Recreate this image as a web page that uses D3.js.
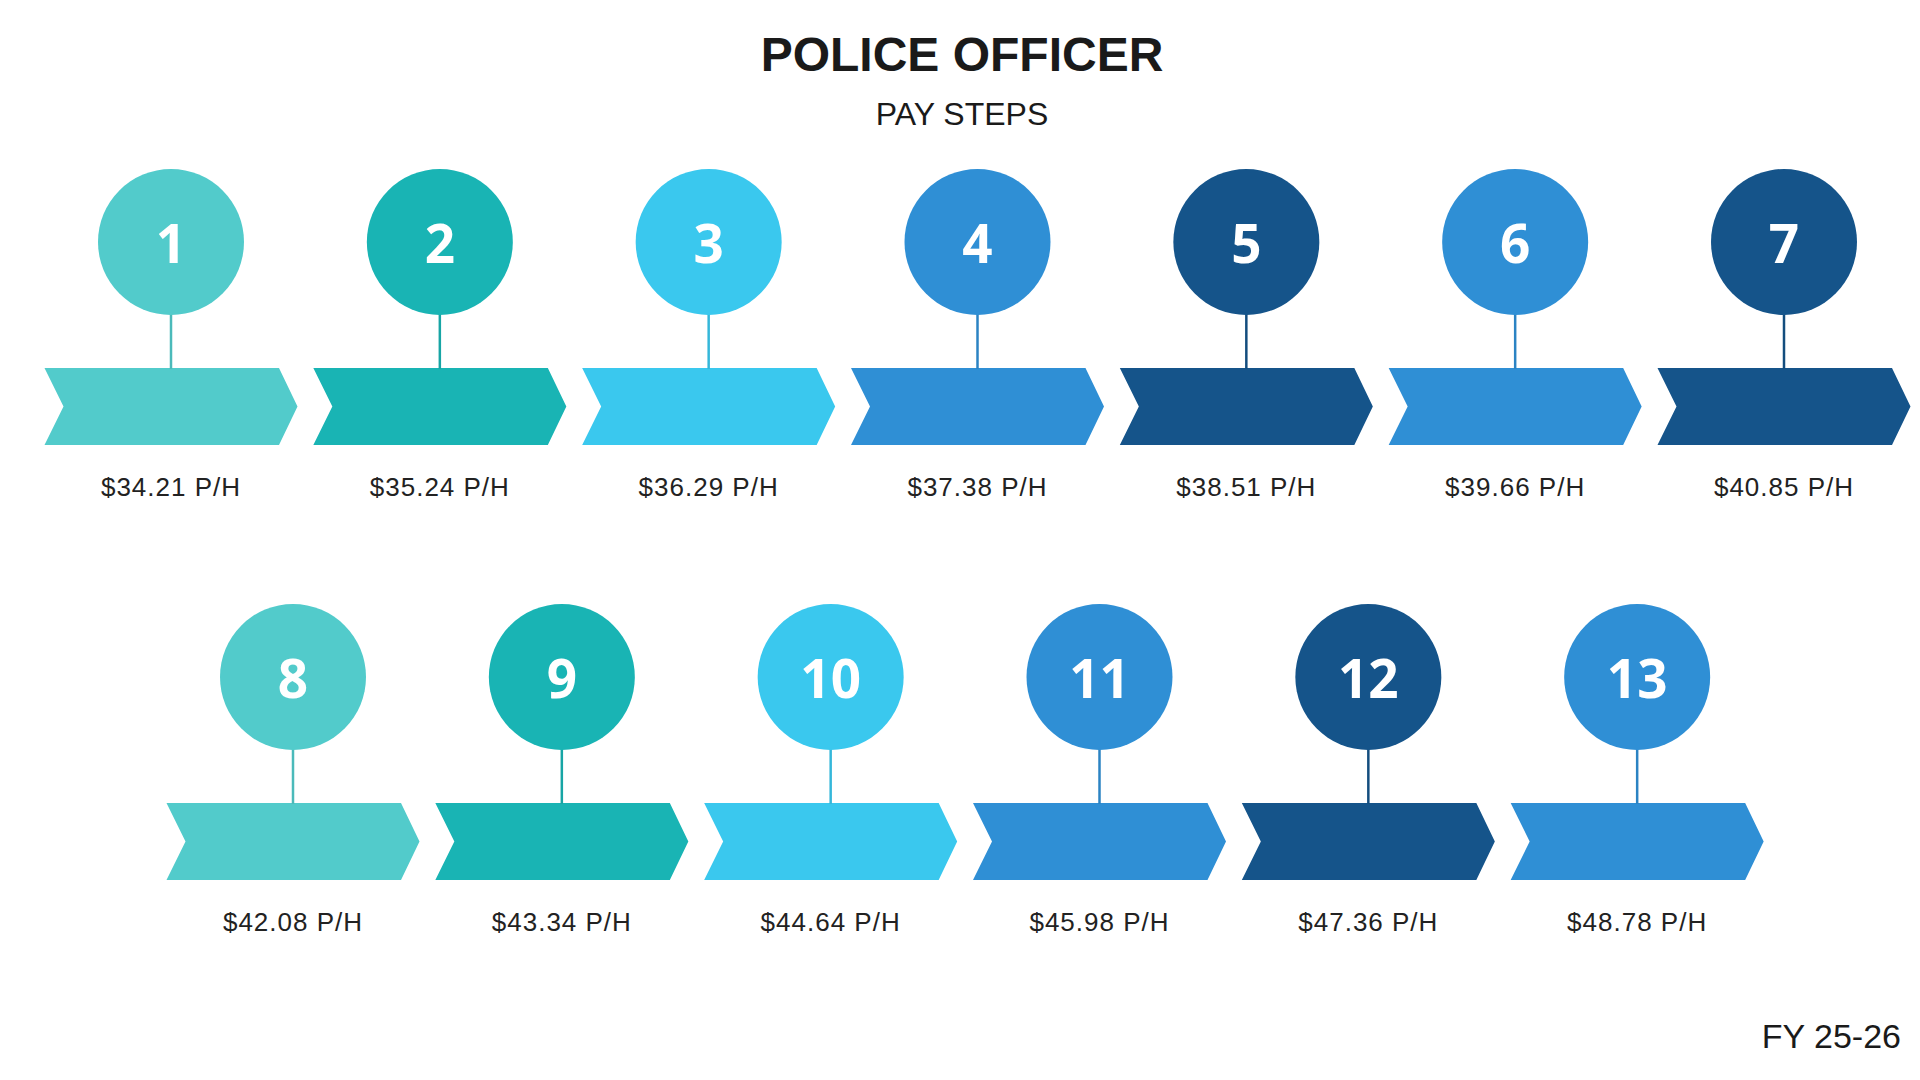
<!DOCTYPE html>
<html>
<head>
<meta charset="utf-8">
<title>Police Officer Pay Steps</title>
<script src="https://cdn.jsdelivr.net/npm/d3@7"></script>
<style>
  html, body { margin: 0; padding: 0; background: #fff; }
  svg { display: block; font-family: "Liberation Sans", Arial, sans-serif; }
  .title { font-weight: bold; fill: #1a1a1a; }
  .rate { fill: #222; }
  .num { font-family: "Open Sans", "Liberation Sans", sans-serif; font-weight: 700; fill: #fff; }
</style>
</head>
<body>
<div id="chart"></div>
<script>
  // Pay steps and hourly rates (FY 25-26)
  var steps = [1, 2, 3, 4, 5, 6, 7, 8, 9, 10, 11, 12, 13];
  var rates = [34.21, 35.24, 36.29, 37.38, 38.51, 39.66, 40.85,
               42.08, 43.34, 44.64, 45.98, 47.36, 48.78];
  var stepsPerRow = [7, 6];

  var titleText = "POLICE OFFICER";
  var subtitleText = "PAY STEPS";
  var footText = "FY 25-26";

  var width = 1920, height = 1080;

  // Colour cycle used by the steps
  var color = d3.scaleOrdinal()
      .domain(steps)
      .range(["#52cbcb", "#19b4b4", "#3ac8ee", "#2f8fd5", "#15548a", "#2f8fd5", "#15548a",
              "#52cbcb", "#19b4b4", "#3ac8ee", "#2f8fd5", "#15548a", "#2f8fd5"]);

  // Build the scenes: one per step, with row / column slot
  var scenes = steps.map(function(s, i) {
    var row = i < stepsPerRow[0] ? 0 : 1;
    var col = row === 0 ? i : i - stepsPerRow[0];
    return {step: s, rate: rates[i], row: row, col: col};
  });

  // Layout scales
  var colX = d3.scaleLinear().domain([0, 6]).range([171, 1784]);
  var rowShift = d3.scaleOrdinal().domain([0, 1]).range([0, 122]);
  var rowY = d3.scaleLinear().domain([0, 1]).range([242, 677]);

  var r = 73;            // circle radius
  var stemLen = 126;     // circle centre -> top of chevron
  var chevW = 253, chevH = 77, notch = 19, tip = 18.5;

  function cx(d) { return colX(d.col) + rowShift(d.row); }
  function cy(d) { return rowY(d.row); }

  function chevronPath(d) {
    var x0 = cx(d) - chevW / 2, x1 = cx(d) + chevW / 2;
    var y0 = cy(d) + stemLen, y1 = y0 + chevH, ym = y0 + chevH / 2;
    return "M" + x0 + "," + y0 +
           "L" + (x1 - tip) + "," + y0 +
           "L" + x1 + "," + ym +
           "L" + (x1 - tip) + "," + y1 +
           "L" + x0 + "," + y1 +
           "L" + (x0 + notch) + "," + ym + "Z";
  }

  var fmt = d3.format("$.2f");

  var svg = d3.select("#chart").append("svg")
      .attr("width", width)
      .attr("height", height);

  // Title
  svg.append("text")
      .attr("class", "title")
      .attr("x", 962)
      .attr("y", 71)
      .attr("text-anchor", "middle")
      .style("font-size", "48px")
      .text(titleText);

  svg.append("text")
      .attr("x", 962)
      .attr("y", 125)
      .attr("text-anchor", "middle")
      .style("font-size", "32px")
      .style("fill", "#1a1a1a")
      .text(subtitleText);

  var g = svg.selectAll(".step")
      .data(scenes)
      .enter().append("g")
      .attr("class", "step");

  // Chevrons
  g.append("path")
      .attr("d", chevronPath)
      .attr("fill", function(d) { return color(d.step); });

  // Stems
  g.append("line")
      .attr("x1", cx)
      .attr("x2", cx)
      .attr("y1", function(d) { return cy(d) + r - 1; })
      .attr("y2", function(d) { return cy(d) + stemLen + 1; })
      .attr("stroke", function(d) { return d3.color(color(d.step)).darker(0.25); })
      .attr("stroke-width", 2.5);

  // Circles
  g.append("circle")
      .attr("cx", cx)
      .attr("cy", cy)
      .attr("r", r)
      .attr("fill", function(d) { return color(d.step); });

  // Step numbers
  g.append("text")
      .attr("class", "num")
      .attr("x", cx)
      .attr("y", function(d) { return cy(d) + 21; })
      .attr("text-anchor", "middle")
      .style("font-size", "53px")
      .text(function(d) { return d.step; });

  // Hourly rates
  g.append("text")
      .attr("class", "rate")
      .attr("x", cx)
      .attr("y", function(d) { return cy(d) + stemLen + 128; })
      .attr("text-anchor", "middle")
      .style("font-size", "26px")
      .style("letter-spacing", "1px")
      .text(function(d) { return fmt(d.rate) + " P/H"; });

  // Footer
  svg.append("text")
      .attr("x", 1901)
      .attr("y", 1048)
      .attr("text-anchor", "end")
      .style("font-size", "34px")
      .style("fill", "#1a1a1a")
      .text(footText);
</script>
</body>
</html>
